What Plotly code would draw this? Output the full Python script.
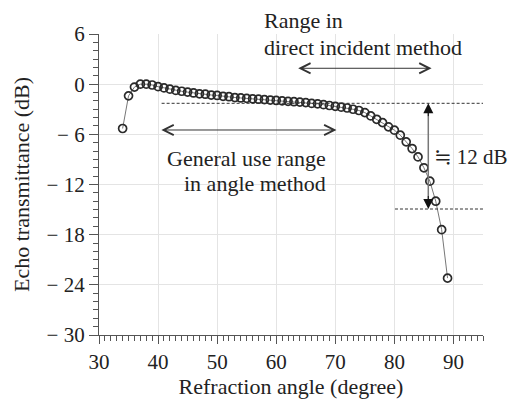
import plotly.graph_objects as go

# ---- data ----
angles = list(range(34, 90))
transmittance = [
    -5.3, -1.4, -0.35, 0.0, 0.0, -0.1, -0.3, -0.45, -0.6, -0.75,
    -0.85, -0.95, -1.05, -1.15, -1.2, -1.3, -1.35, -1.45, -1.5, -1.6,
    -1.65, -1.7, -1.75, -1.8, -1.85, -1.9, -1.95, -2.0, -2.05, -2.1,
    -2.15, -2.2, -2.3, -2.35, -2.45, -2.55, -2.65, -2.75, -2.85, -3.0,
    -3.15, -3.4, -3.8, -4.2, -4.6, -5.1, -5.5, -6.1, -6.9, -7.7,
    -8.7, -10.0, -11.6, -14.0, -17.4, -23.2,
]
x_ticks = [30, 40, 50, 60, 70, 80, 90]
x_ticktext = ["30", "40", "50", "60", "70", "80", "90"]
y_ticks = [-30, -24, -18, -12, -6, 0, 6]
y_ticktext = ["\u2212 30", "\u2212 24", "\u2212 18", "\u2212 12", "\u2212 6", "0", "6"]

x_title = "Refraction angle (degree)"
y_title = "Echo transmittance (dB)"

FONT = "Liberation Serif, Times New Roman, Noto Sans CJK JP, serif"
TXT = "#222222"

fig = go.Figure()
fig.add_trace(go.Scatter(
    x=angles, y=transmittance, mode="lines+markers",
    line=dict(color="#777777", width=1),
    marker=dict(symbol="circle-open", size=8, color="#2a2a2a", line=dict(width=1.7, color="#2a2a2a")),
    showlegend=False, cliponaxis=False,
))

# reference lines
fig.add_shape(type="line", x0=40.6, x1=95, y0=-2.29, y1=-2.29,
              line=dict(color="#333333", width=1, dash="3px,2px"))
fig.add_shape(type="line", x0=80.1, x1=95, y0=-14.93, y1=-14.93,
              line=dict(color="#333333", width=1, dash="3px,2px"))
fig.add_shape(type="line", x0=85.74, x1=85.74, y0=-3.0, y1=-14.2,
              line=dict(color="#777777", width=1.5))

ann = []
# filled arrow heads on the 12 dB span
ann.append(dict(x=85.74, y=-2.29, ax=85.74, ay=-4.0, xref="x", yref="y", axref="x", ayref="y",
                text="", showarrow=True, arrowhead=2, arrowsize=2, arrowwidth=1, arrowcolor="#111111"))
ann.append(dict(x=85.74, y=-14.93, ax=85.74, ay=-13.2, xref="x", yref="y", axref="x", ayref="y",
                text="", showarrow=True, arrowhead=2, arrowsize=2, arrowwidth=1, arrowcolor="#111111"))
# double open arrows
ann.append(dict(x=86.3, y=1.9, ax=63.46, ay=1.9, xref="x", yref="y", axref="x", ayref="y",
                text="", showarrow=True, arrowhead=5, startarrowhead=5, arrowside="end+start",
                arrowsize=2, startarrowsize=2, arrowwidth=1, arrowcolor="#333333"))
ann.append(dict(x=70.2, y=-5.48, ax=40.3, ay=-5.48, xref="x", yref="y", axref="x", ayref="y",
                text="", showarrow=True, arrowhead=5, startarrowhead=5, arrowside="end+start",
                arrowsize=2, startarrowsize=2, arrowwidth=1, arrowcolor="#333333"))
# texts
tf = dict(family=FONT, size=22, color=TXT)
ann.append(dict(x=57.6, y=1.0465, xref="x", yref="paper", text="Range in", showarrow=False,
                xanchor="left", yanchor="middle", font=tf))
ann.append(dict(x=57.6, y=0.9568, xref="x", yref="paper", text="direct incident method", showarrow=False,
                xanchor="left", yanchor="middle", font=tf))
ann.append(dict(x=68.8, y=-8.9, xref="x", yref="y", text="General use range", showarrow=False,
                xanchor="right", yanchor="middle", font=tf))
ann.append(dict(x=68.8, y=-11.85, xref="x", yref="y", text="in angle method", showarrow=False,
                xanchor="right", yanchor="middle", font=tf))
ann.append(dict(x=1.0, y=-8.7, xref="paper", yref="y", xshift=27, text="\u2252 12 dB", showarrow=False,
                xanchor="right", yanchor="middle",
                font=dict(family="Liberation Serif, DejaVu Serif, serif", size=21, color=TXT)))
fig.update_layout(annotations=ann)

axis_common = dict(
    showline=True, linecolor="#555555", linewidth=1.2,
    showgrid=True, gridcolor="#e4e4e4", gridwidth=1,
    zeroline=False, ticks="outside", tickcolor="#555555", tickwidth=1.2,
    tickfont=dict(family=FONT, size=21, color=TXT),
)

fig.update_xaxes(
    range=[30, 95], autorange=False, tickmode="array", tickvals=x_ticks, ticktext=x_ticktext,
    ticklen=8,
    minor=dict(tickmode="linear", tick0=30, dtick=1, ticks="outside", ticklen=5,
               tickcolor="#555555", tickwidth=1, showgrid=False),
    title=dict(text=x_title, font=dict(family=FONT, size=22, color=TXT), standoff=3),
    **axis_common,
)
fig.update_yaxes(
    range=[-30, 6], autorange=False, tickmode="array", tickvals=y_ticks, ticktext=y_ticktext,
    ticklen=9,
    minor=dict(tickmode="linear", tick0=0, dtick=1, ticks="outside", ticklen=5,
               tickcolor="#555555", tickwidth=1, showgrid=False),
    title=dict(text=y_title, font=dict(family=FONT, size=22, color=TXT), standoff=10),
    **axis_common,
)

fig.update_layout(
    width=510, height=403,
    margin=dict(l=99, r=27, t=34, b=68, autoexpand=False),
    plot_bgcolor="white", paper_bgcolor="white",
    font=dict(family=FONT, color=TXT),
)

fig.write_html("out.html", config={"displayModeBar": False},
               post_script="document.body.style.margin='0';document.body.style.padding='0';")
